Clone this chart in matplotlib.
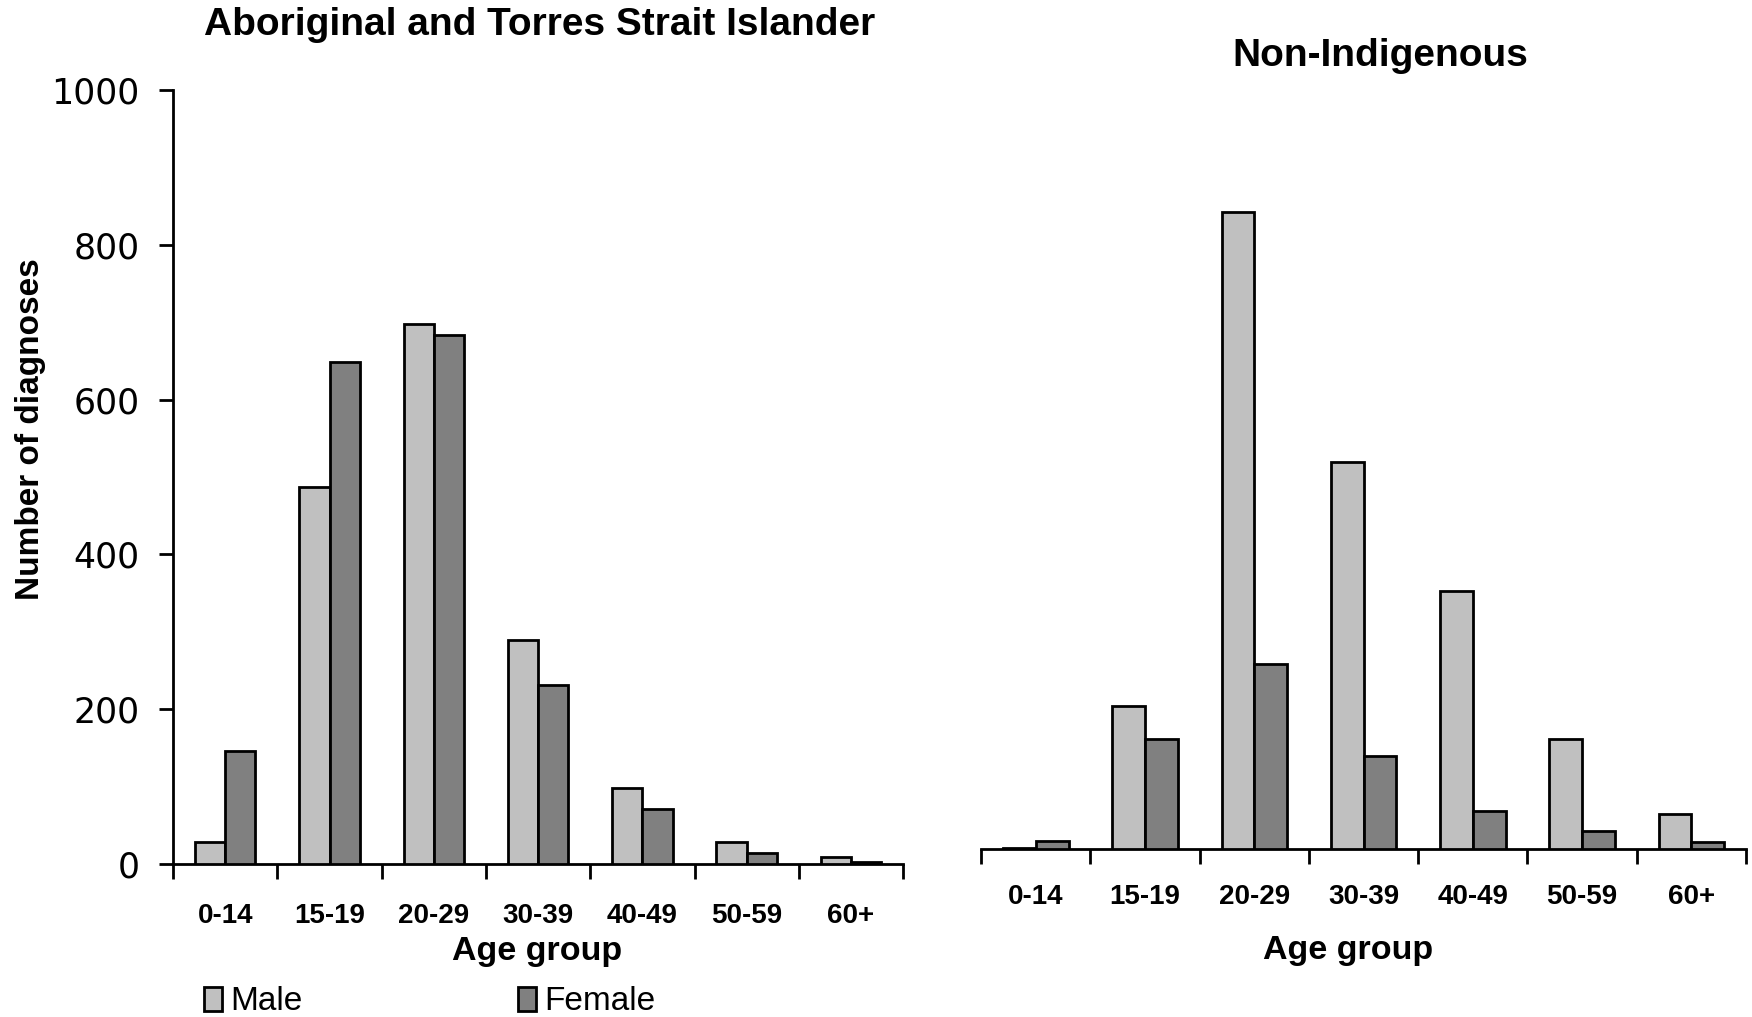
import matplotlib
matplotlib.use("Agg")
import matplotlib.pyplot as plt
import numpy as np
from matplotlib.patches import Patch

age_groups = ["0-14", "15-19", "20-29", "30-39", "40-49", "50-59", "60+"]
atsi_male = [29, 487, 698, 289, 98, 29, 9]
atsi_female = [146, 649, 683, 231, 71, 14, 3]
nonind_male = [1, 185, 825, 501, 334, 143, 45]
nonind_female = [10, 142, 240, 120, 49, 23, 9]
yticks_left = [0, 200, 400, 600, 800, 1000]

MALE_C = "#C0C0C0"
FEMALE_C = "#808080"
NARROW = ["Liberation Sans Narrow", "Liberation Sans", "DejaVu Sans"]
WIDE = ["DejaVu Sans"]

fig = plt.figure(figsize=(17.52, 10.17), dpi=100)
axL = fig.add_axes([0.0988, 0.1504, 0.4167, 0.761])
axR = fig.add_axes([0.560, 0.165, 0.4366, 0.760])

def draw(ax, male, female, bw, pad):
    x = np.arange(len(age_groups))
    ax.bar(x - bw / 2, male, bw, color=MALE_C, edgecolor="black", linewidth=2, zorder=3)
    ax.bar(x + bw / 2, female, bw, color=FEMALE_C, edgecolor="black", linewidth=2, zorder=3)
    ax.set_xlim(-0.5, len(age_groups) - 0.5)
    ax.set_ylim(0, 1000)
    ax.set_xticks(np.arange(len(age_groups) + 1) - 0.5)
    ax.set_xticklabels([])
    ax.set_xticks(x, minor=True)
    ax.set_xticklabels(age_groups, minor=True, fontfamily=NARROW, fontweight="bold", fontsize=20)
    ax.tick_params(axis="x", which="major", length=11, width=2, direction="out")
    ax.tick_params(axis="x", which="minor", length=0, pad=pad)
    for s in ["top", "right"]:
        ax.spines[s].set_visible(False)
    ax.spines["bottom"].set_linewidth(2)

draw(axL, atsi_male, atsi_female, 0.29, 28)
draw(axR, nonind_male, nonind_female, 0.30, 25)

axL.set_yticks(yticks_left)
axL.set_yticklabels([str(v) for v in yticks_left], fontfamily=WIDE, fontsize=25)
axL.tick_params(axis="y", length=10, width=2, pad=14)
axL.spines["left"].set_linewidth(2)
axL.set_xlabel("Age group", fontfamily=NARROW, fontweight="bold", fontsize=24.5, labelpad=5, x=0.4985)
fig.text(31 / 1752, 1 - 429 / 1017, "Number of diagnoses", rotation=90, ha="center", va="center",
         fontfamily=NARROW, fontweight="bold", fontsize=24)

axR.spines["left"].set_visible(False)
axR.set_yticks([])
axR.set_xlabel("Age group", fontfamily=NARROW, fontweight="bold", fontsize=24.5, labelpad=18, x=0.480)

fig.text(540 / 1752, 1 - 25 / 1017, "Aboriginal and Torres Strait Islander", ha="center", va="center",
         fontfamily=NARROW, fontweight="bold", fontsize=28)
fig.text(1380 / 1752, 1 - 56 / 1017, "Non-Indigenous", ha="center", va="center",
         fontfamily=NARROW, fontweight="bold", fontsize=28)

handles = [Patch(facecolor=MALE_C, edgecolor="black", linewidth=2, label="Male"),
           Patch(facecolor=FEMALE_C, edgecolor="black", linewidth=2, label="Female")]
fig.legend(handles=handles, loc="center left", bbox_to_anchor=(204 / 1752, 1 - 1002 / 1017),
           ncol=2, frameon=False, prop={"family": NARROW, "size": 24},
           handlelength=0.55, handleheight=0.7, handletextpad=0.25, columnspacing=6.45,
           borderpad=0, borderaxespad=0)

fig.savefig("out.png", dpi=100, facecolor="white")
